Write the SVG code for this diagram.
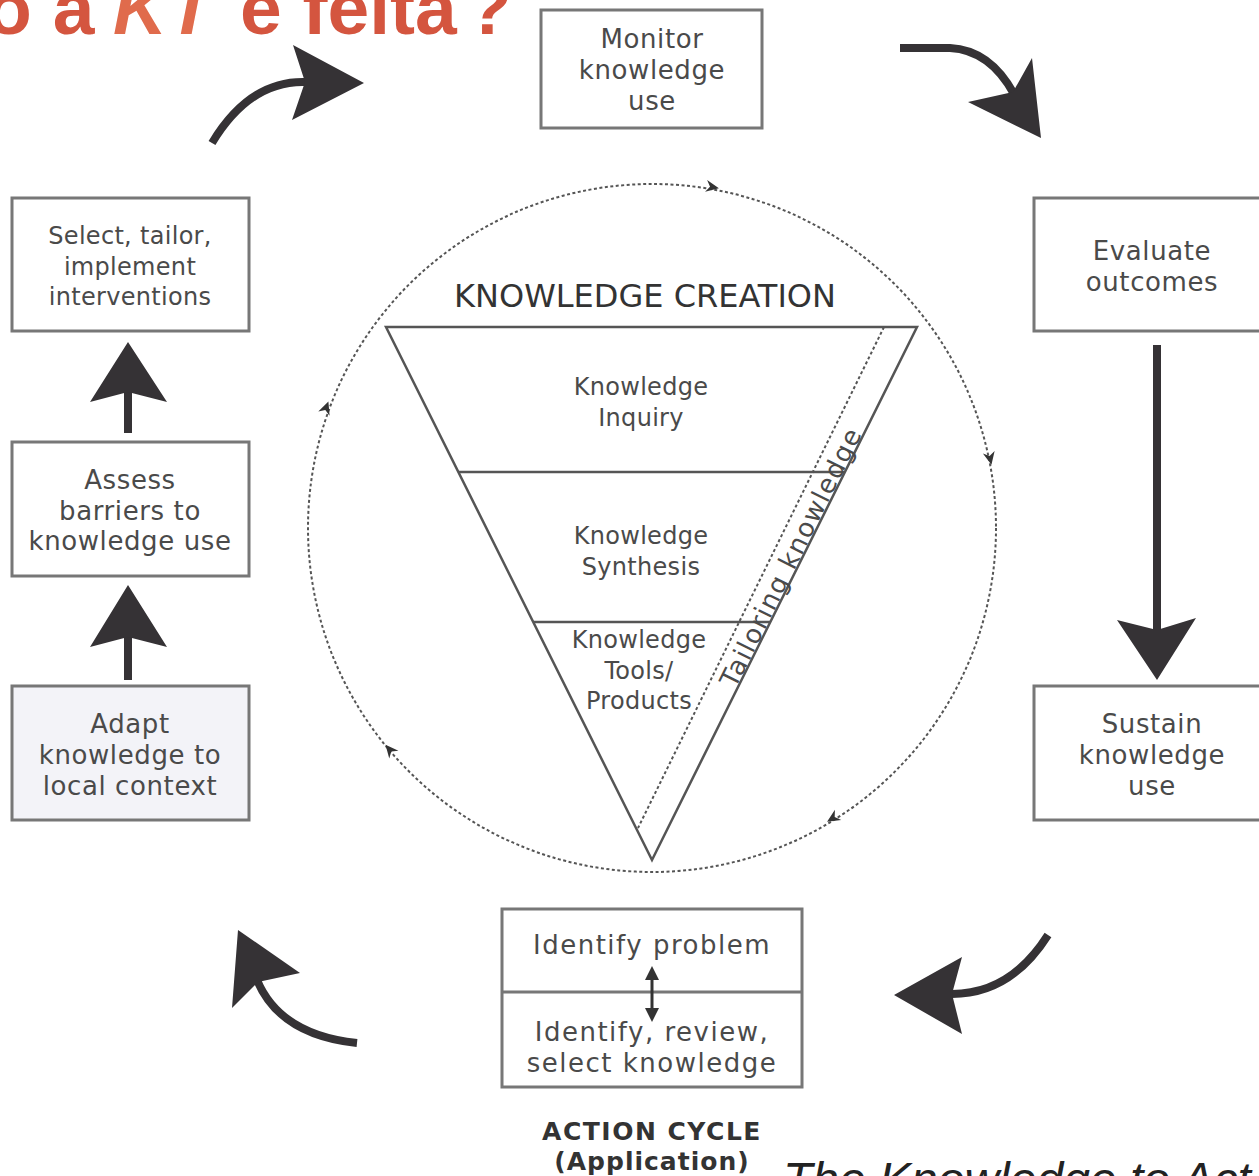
<svg xmlns="http://www.w3.org/2000/svg" xmlns:xlink="http://www.w3.org/1999/xlink" width="1259" height="1176" viewBox="0 0 1259 1176">
<style>
.box{fill:#fff;stroke:#777;stroke-width:3}
.t{font-family:"DejaVu Sans",Verdana,sans-serif;font-size:26px;fill:#4a4a4a;text-anchor:middle;letter-spacing:0.6px}
.ts{font-size:24px;letter-spacing:0.3px}
.tri{fill:none;stroke:#555;stroke-width:2.5}
.dot{fill:none;stroke:#555;stroke-width:2;stroke-dasharray:3 2.5}
.big{fill:none;stroke:#353235;stroke-width:8;stroke-linecap:butt}
.head{fill:#353235}
.small{fill:#333}
</style>
<defs>
<path id="ah" d="M7,0 L-6,-6 L-2,0 L-6,6 Z"/>
</defs>
<rect width="1259" height="1176" fill="#fff"/>

<text y="34" font-family="Liberation Sans,Arial,sans-serif" font-weight="bold" font-size="75" fill="#D4553F"><tspan x="-14">o a</tspan><tspan x="113" font-style="italic" fill="#E06B4C">KT</tspan><tspan x="240">e feita</tspan><tspan x="466">?</tspan></text>

<g id="circle">
<circle class="dot" cx="652" cy="528" r="344"/>
<use xlink:href="#ah" class="small" transform="translate(712,187) rotate(10)"/>
<use xlink:href="#ah" class="small" transform="translate(990,458) rotate(78)"/>
<use xlink:href="#ah" class="small" transform="translate(833,818) rotate(148)"/>
<use xlink:href="#ah" class="small" transform="translate(390,750) rotate(-130)"/>
<use xlink:href="#ah" class="small" transform="translate(326,408) rotate(-70)"/>
</g>

<g id="knowledge-creation">
<text x="645" y="307" font-family="DejaVu Sans,Verdana,sans-serif" font-size="32" fill="#333" text-anchor="middle">KNOWLEDGE CREATION</text>
<polygon class="tri" points="386,327 917,327 652,860"/>
<line class="tri" x1="458" y1="472" x2="845" y2="472"/>
<line class="tri" x1="533" y1="622" x2="770" y2="622"/>
<line class="dot" x1="884" y1="327" x2="638" y2="828"/>
<text class="t ts" x="641" y="395">Knowledge</text>
<text class="t ts" x="641" y="426">Inquiry</text>
<text class="t ts" x="641" y="544">Knowledge</text>
<text class="t ts" x="641" y="575">Synthesis</text>
<text class="t ts" x="639" y="648">Knowledge</text>
<text class="t ts" x="639" y="679">Tools/</text>
<text class="t ts" x="639" y="709">Products</text>
<text class="t" transform="translate(799,561) rotate(-63.6)" x="0" y="0" style="letter-spacing:1.5px">Tailoring knowledge</text>
</g>

<g id="monitor">
<rect class="box" x="541" y="10" width="221" height="118"/>
<text class="t" x="652" y="48">Monitor</text>
<text class="t" x="652" y="79">knowledge</text>
<text class="t" x="652" y="110">use</text>
</g>

<g id="evaluate">
<rect class="box" x="1034" y="198" width="240" height="133"/>
<text class="t" x="1152" y="260">Evaluate</text>
<text class="t" x="1152" y="291">outcomes</text>
</g>

<g id="sustain">
<rect class="box" x="1034" y="686" width="240" height="134"/>
<text class="t" x="1152" y="733">Sustain</text>
<text class="t" x="1152" y="764">knowledge</text>
<text class="t" x="1152" y="795">use</text>
</g>

<g id="select">
<rect class="box" x="12" y="198" width="237" height="133"/>
<text class="t ts" x="130" y="244">Select, tailor,</text>
<text class="t ts" x="130" y="275">implement</text>
<text class="t ts" x="130" y="305">interventions</text>
</g>

<g id="assess">
<rect class="box" x="12" y="442" width="237" height="134"/>
<text class="t" x="130" y="489">Assess</text>
<text class="t" x="130" y="520">barriers to</text>
<text class="t" x="130" y="550">knowledge use</text>
</g>

<g id="adapt">
<rect class="box" x="12" y="686" width="237" height="134" style="fill:#f3f3f8"/>
<text class="t" x="130" y="733">Adapt</text>
<text class="t" x="130" y="764">knowledge to</text>
<text class="t" x="130" y="795">local context</text>
</g>

<g id="identify">
<rect class="box" x="502" y="909" width="300" height="178"/>
<line x1="502" y1="992" x2="802" y2="992" stroke="#777" stroke-width="3"/>
<text class="t" x="652" y="954" style="letter-spacing:1.5px">Identify problem</text>
<text class="t" x="652" y="1041" style="letter-spacing:1.5px">Identify, review,</text>
<text class="t" x="652" y="1072" style="letter-spacing:1.5px">select knowledge</text>
<line x1="652" y1="976" x2="652" y2="1012" stroke="#333" stroke-width="3"/>
<polygon class="small" points="652,966 645,980 659,980"/>
<polygon class="small" points="652,1022 645,1008 659,1008"/>
</g>

<g id="action-cycle">
<text x="652" y="1140" font-family="DejaVu Sans,Verdana,sans-serif" font-weight="bold" font-size="25" fill="#333" text-anchor="middle" letter-spacing="1.5">ACTION CYCLE</text>
<text x="652" y="1170" font-family="DejaVu Sans,Verdana,sans-serif" font-weight="bold" font-size="25" fill="#333" text-anchor="middle" letter-spacing="1">(Application)</text>
</g>

<g id="connectors">
<path class="big" d="M212,143 Q250,80 306,82"/>
<polygon class="head" points="293,45 364,83 292,120 305,82"/>
<path class="big" d="M900,48 L950,48 Q990,50 1014,94"/>
<polygon class="head" points="1032,58 1041,138 968,102 1013,92"/>
<line class="big" x1="1157" y1="345" x2="1157" y2="634"/>
<polygon class="head" points="1117,620 1157,630 1196,618 1157,680"/>
<path class="big" d="M1048,935 Q1010,995 950,994"/>
<polygon class="head" points="962,957 952,994 962,1034 894,995"/>
<path class="big" d="M357,1043 Q280,1035 257,980"/>
<polygon class="head" points="238,930 300,973 258,982 232,1008"/>
<line class="big" x1="128" y1="433" x2="128" y2="390"/>
<polygon class="head" points="128,342 167,402 128,392 90,402"/>
<line class="big" x1="128" y1="680" x2="128" y2="635"/>
<polygon class="head" points="128,585 167,647 128,637 90,647"/>
</g>

<text x="783" y="1196" font-family="Liberation Sans,Arial,sans-serif" font-style="italic" font-size="48" fill="#222">The Knowledge to Act</text>
</svg>
